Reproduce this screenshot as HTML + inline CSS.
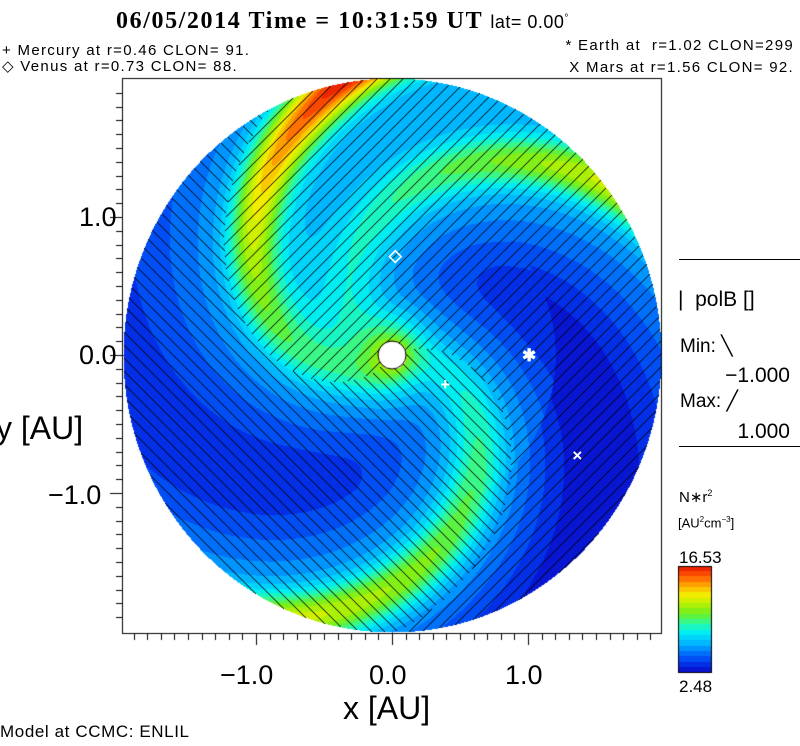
<!DOCTYPE html>
<html><head><meta charset="utf-8"><style>
body{margin:0;background:#fff;}
#wrap{position:relative;width:800px;height:746px;overflow:hidden;background:#fff;font-family:"Liberation Sans",sans-serif;color:#000;}
.t{position:absolute;white-space:nowrap;line-height:1;z-index:2;}
.ax{font-size:27px;font-weight:300;}
.hd{font-size:15px;letter-spacing:1.3px;}
canvas{z-index:1;}
</style></head><body>
<div id="wrap">
<canvas id="cv" width="800" height="746" style="position:absolute;left:0;top:0"></canvas>
<div class="t" style="left:116px;top:9px;font-family:'Liberation Serif',serif;font-weight:bold;font-size:24px;letter-spacing:1.6px;">06/05/2014 Time = 10:31:59 UT <span style="font-family:'Liberation Sans',sans-serif;font-weight:normal;font-size:18px;letter-spacing:0.5px;">lat= 0.00<sup style="font-size:10px">°</sup></span></div>
<div class="t hd" style="left:2px;top:43px;">+ Mercury at r=0.46 CLON= 91.</div>
<div class="t hd" style="left:2px;top:59px;">◇ Venus at r=0.73 CLON= 88.</div>
<div class="t hd" style="right:6px;top:38px;">* Earth at &nbsp;r=1.02 CLON=299</div>
<div class="t hd" style="right:6px;top:60px;">X Mars at r=1.56 CLON= 92.</div>
<div class="t ax" style="left:79px;top:204px;">1.0</div>
<div class="t ax" style="left:79px;top:342px;">0.0</div>
<div class="t ax" style="left:48px;top:482px;">−1.0</div>
<div class="t ax" style="left:-4px;top:412px;font-size:32px;">y [AU]</div>
<div class="t ax" style="left:220px;top:662px;">−1.0</div>
<div class="t ax" style="left:369px;top:662px;">0.0</div>
<div class="t ax" style="left:505px;top:662px;">1.0</div>
<div class="t ax" style="left:343px;top:692px;font-size:32px;">x [AU]</div>
<div class="t" style="left:0px;top:723px;font-size:17px;letter-spacing:0.6px;">Model at CCMC: ENLIL</div>
<div style="position:absolute;left:679px;top:259px;width:121px;height:1px;background:#000;z-index:2"></div>
<div class="t" style="left:678px;top:289px;font-size:21px;">|&nbsp; polB []</div>
<div class="t" style="left:680px;top:337px;font-size:19px;">Min: ╲</div>
<div class="t" style="right:10px;top:365px;font-size:21px;">−1.000</div>
<div class="t" style="left:680px;top:392px;font-size:19px;">Max: ╱</div>
<div class="t" style="right:10px;top:421px;font-size:21px;">1.000</div>
<div style="position:absolute;left:679px;top:446px;width:121px;height:1px;background:#000;z-index:2"></div>
<div class="t" style="left:679px;top:489px;font-size:15px;">N∗r<sup style="font-size:9px">2</sup></div>
<div class="t" style="left:678px;top:516px;font-size:13px;">[AU<sup style="font-size:8px">2</sup>cm<sup style="font-size:8px">−3</sup>]</div>
<div class="t" style="left:679px;top:549px;font-size:17px;">16.53</div>
<div class="t" style="left:679px;top:678px;font-size:17px;">2.48</div>
</div>
<script>
const armPhase=[215,152,5];
const armC0=[0.8,0.3,0.8];
const armC1=[1.4,0.8,1.8];
const armC2=[1.6,0.9,0.3];
const gapPhase=[80,300,55];
const gapAmp=[-1.0,-0.9,-1.0];
const planetNames=['mercury','venus','earth','mars'];
const planetX=[0.40,0.02,1.00,1.37];
const planetY=[-0.22,0.72,-0.01,-0.73];
const planetGlyph=['+','◇','✱','×'];
const xTicks=[-1,0,1];
const vmin=2.48,vmax=16.53;

const BX0=122,BY0=78,BX1=661,BY1=633,CX=392,CY=355,SX=136,SY=138,RX=269,RY=277;
const sx=a=>CX+a*SX, sy=a=>CY-a*SY;
const stops=[[0,10,10,200],[.1,0,60,240],[.2,0,130,255],[.3,0,200,255],[.38,0,240,240],[.45,40,250,170],[.55,110,240,30],[.65,190,240,0],[.72,240,240,0],[.8,255,180,0],[.9,255,90,0],[1,230,20,0]];
function cmap(f){f=Math.max(0,Math.min(.999,f));f=(Math.floor(f*20)+.5)/20;
 for(let i=1;i<stops.length;i++){if(f<=stops[i][0]){const a=stops[i-1],b=stops[i],t=(f-a[0])/(b[0]-a[0]);return [a[1]+(b[1]-a[1])*t,a[2]+(b[2]-a[2])*t,a[3]+(b[3]-a[3])*t];}}return [230,20,0];}
function dang(a,b){return ((a-b)%360+540)%360-180;}
function field(r,psi){
 let v=4.2;
 for(let i=0;i<armPhase.length;i++){
  const d=r*dang(psi,armPhase[i])*Math.PI/180/Math.sqrt(1+r*r);
  const amp=armC0[i]+armC1[i]*r+armC2[i]*r*r;
  v+=amp*Math.exp(-d*d/(2*.13*.13))+2.1*Math.exp(-d*d/(2*.38*.38));
 }
 for(let i=0;i<gapPhase.length;i++){
  const d=r*dang(psi,gapPhase[i])*Math.PI/180/Math.sqrt(1+r*r);
  v+=gapAmp[i]*Math.min(1,r)*Math.exp(-d*d/(2*.3*.3))*(i==2?(r>1.2?1:0):1);
 }
 return v;
}
const cv=document.getElementById('cv'),ctx=cv.getContext('2d');
const img=ctx.createImageData(800,746),D=img.data;
const P=13;
for(let y=BY0;y<BY1;y++)for(let x=BX0;x<BX1;x++){
 const ex=(x-CX)/RX,ey=(y-CY)/RY;if(ex*ex+ey*ey>1)continue;
 const ax=(x-CX)/SX,ay=(CY-y)/SY,r=Math.hypot(ax,ay);
 if(Math.hypot(x-CX,y-CY)<14)continue;
 let phi=Math.atan2(ay,ax)*180/Math.PI;if(phi<0)phi+=360;
 const psi=((phi+57*r)%360+360)%360;
 let c=cmap((field(r,psi)-vmin)/(vmax-vmin));
 const pos=psi>=25&&psi<=231;
 const m=pos?((x+y)%P):(((x-y)%P)+P)%P;
 if(m==0)c=[0,0,0];
 const k=(y*800+x)*4;D[k]=c[0];D[k+1]=c[1];D[k+2]=c[2];D[k+3]=255;
}
for(let y=566;y<673;y++)for(let x=678;x<712;x++){const c=cmap((672-y)/107);const k=(y*800+x)*4;D[k]=c[0];D[k+1]=c[1];D[k+2]=c[2];D[k+3]=255;}
ctx.putImageData(img,0,0);
ctx.strokeStyle='#000';ctx.lineWidth=1;
ctx.strokeRect(BX0+.5,BY0+.5,BX1-BX0,BY1-BY0);
ctx.strokeRect(678.5,566.5,33,106);
ctx.beginPath();ctx.arc(CX,CY,14,0,Math.PI*2);ctx.stroke();
ctx.beginPath();
for(let i=-19;i<=19;i++){const x=Math.round(sx(i/10))+.5;const L=(i%10==0)?12:7;ctx.moveTo(x,BY1);ctx.lineTo(x,BY1+L);}
for(let i=-19;i<=19;i++){const y=Math.round(sy(i/10))+.5;if(y<BY0||y>BY1)continue;const L=(i%10==0)?12:6;ctx.moveTo(BX0,y);ctx.lineTo(BX0-L,y);}
ctx.stroke();
const wrap=document.getElementById('wrap');
for(let i=0;i<planetNames.length;i++){
 const d=document.createElement('div');
 
 
 d.className='t';d.textContent=planetGlyph[i];
 d.style.cssText='color:#fff;font-size:17px;font-weight:bold;left:'+(sx(planetX[i])-6)+'px;top:'+(sy(planetY[i])-9)+'px;';
 wrap.appendChild(d);
}
</script>
</body></html>
